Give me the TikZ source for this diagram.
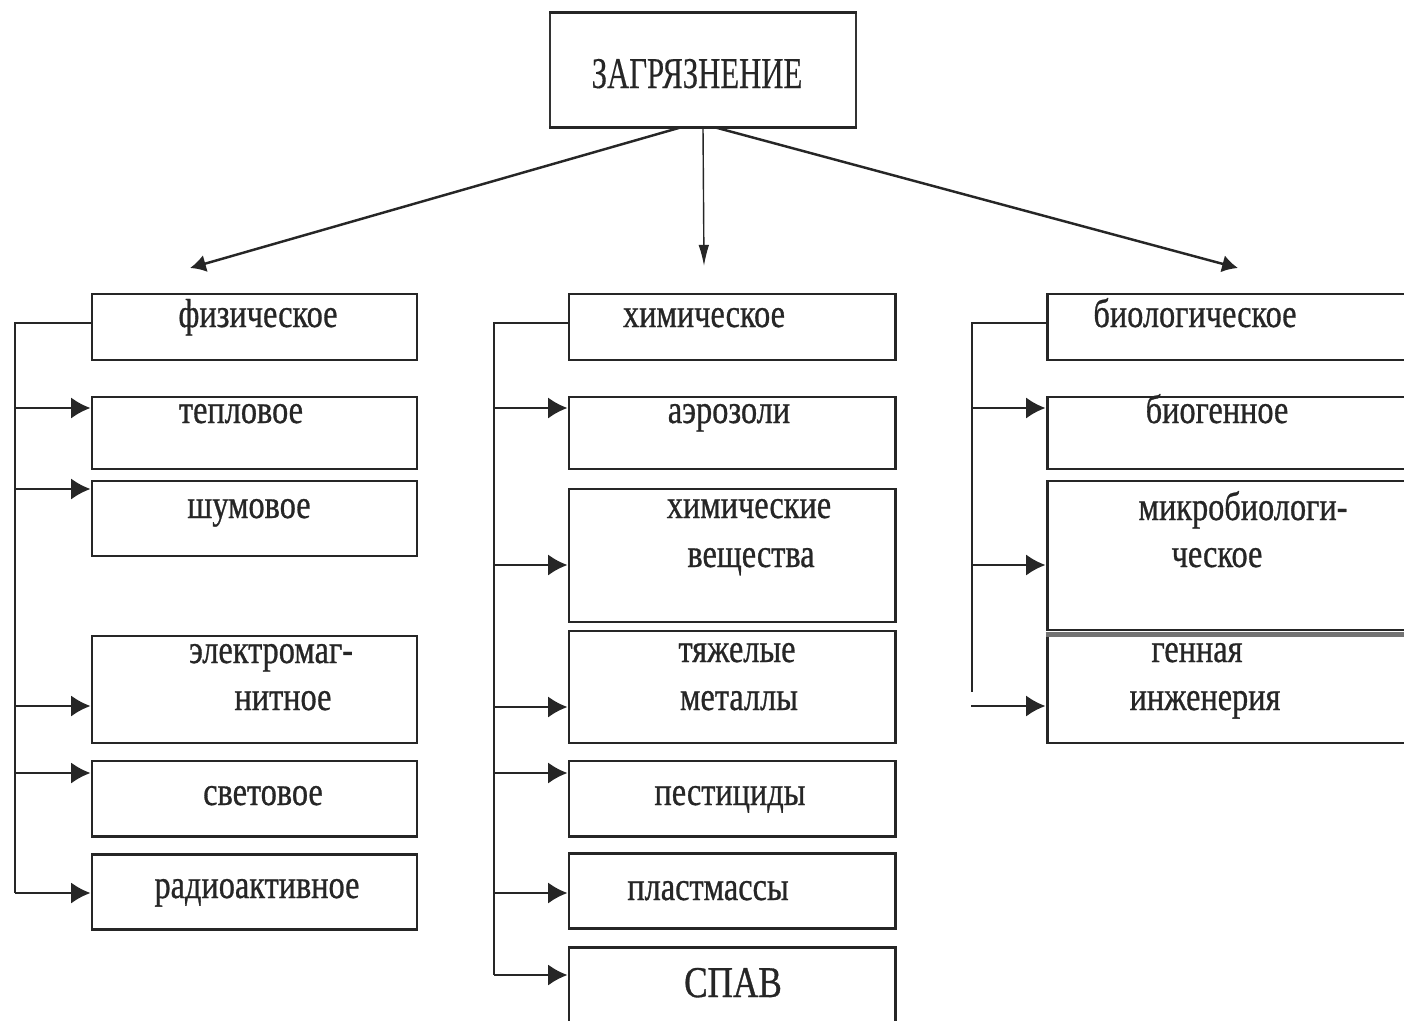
\documentclass[tikz,border=0pt]{standalone}
\usepackage{fontspec}
\setmainfont{Liberation Serif}
\newfontfamily\condfont[FakeStretch=0.8,FakeBold=0.7]{Liberation Serif}
\newfontfamily\titlefont[FakeStretch=0.7,FakeBold=0.3]{Liberation Serif}
\usetikzlibrary{arrows.meta,fit}
\begin{document}
\begin{tikzpicture}[x=0.02cm,y=-0.02cm,
 box/.style={draw=black!85, line width=1.7pt, inner sep=0pt},
 lbl/.style={anchor=base, inner sep=0pt, font=\condfont\fontsize{23}{27}\selectfont, text=black!85},
 trunk/.style={draw=black!85, line width=1.3pt},
 harr/.style={draw=black!85, line width=1.3pt, -{Latex[length=11pt,width=12pt]}},
 tarr/.style={draw=black!85, line width=1.4pt, -{Latex[length=9pt,width=10pt]}},
 marr/.style={draw=black!85, line width=0.8pt, -{Latex[length=12pt,width=6pt]}},
]
\useasboundingbox (0,0) rectangle (1404,1021);
\clip (0,0) rectangle (1404,1021);

% top box
\node[draw=black!80, line width=0.7pt, inner sep=0pt, fit={(550,13) (856,127)}] (top) {};
\draw[black!85, line width=1.8pt] (top.north west) -- (top.north east);
\draw[black!85, line width=1.8pt] (top.south west) -- (top.south east);
\node[anchor=base, inner sep=0pt, font=\titlefont\fontsize{25}{29}\selectfont, text=black!85] (toptext) at (697,88) {ЗАГРЯЗНЕНИЕ};

\coordinate (tl) at (190,268);
\coordinate (tm) at (704,266);
\coordinate (tr) at (1238,268);
\draw[tarr] ([xshift=-0.46cm]top.south) -- (tl);
\draw[marr] (top.south) -- (tm);
\draw[tarr] ([xshift=0.26cm]top.south) -- (tr);

% left column
\node[box, fit={(92,294) (417,360)}] (fiz) {};
\node[box, fit={(92,397) (417,469)}] (tep) {};
\node[box, fit={(92,481) (417,556)}] (shum) {};
\node[box, fit={(92,636) (417,743)}] (elm) {};
\node[box, fit={(92,761) (417,836)}] (svet) {};
\node[box, fit={(92,854) (417,929)}] (rad) {};

\node[lbl] (t1) at (258,327) {физическое};
\node[lbl] (t2) at (241,423) {тепловое};
\node[lbl] (t3) at (249,518) {шумовое};
\node[lbl] (t4a) at (271,663) {электромаг-};
\node[lbl] (t4b) at (283,710) {нитное};
\node[lbl] (t5) at (263,805) {световое};
\node[lbl] (t6) at (257,898) {радиоактивное};

\coordinate (Lt) at (15,323);
\coordinate (Lb) at (15,893);
\coordinate (La1) at (15,408);
\coordinate (La2) at (15,489);
\coordinate (La3) at (15,706);
\coordinate (La4) at (15,773);
\draw[trunk] (Lt -| fiz.west) -- (Lt) -- (Lb);
\draw[harr] (La1) -- (La1 -| tep.west);
\draw[harr] (La2) -- (La2 -| shum.west);
\draw[harr] (La3) -- (La3 -| elm.west);
\draw[harr] (La4) -- (La4 -| svet.west);
\draw[harr] (Lb) -- (Lb -| rad.west);

% middle column
\node[box, fit={(569,294) (895,360)}] (him) {};
\node[box, fit={(569,397) (895,469)}] (aer) {};
\node[box, fit={(569,489) (895,622)}] (hv) {};
\node[box, fit={(569,631) (895,743)}] (tmet) {};
\node[box, fit={(569,761) (895,836)}] (pest) {};
\node[box, fit={(569,853) (895,928)}] (plast) {};
\node[box, fit={(569,947) (895,1040)}] (spav) {};

\node[lbl] (m1) at (704,327) {химическое};
\node[lbl] (m2) at (729,423) {аэрозоли};
\node[lbl] (m3a) at (749,518) {химические};
\node[lbl] (m3b) at (751,567) {вещества};
\node[lbl] (m4a) at (737,662) {тяжелые};
\node[lbl] (m4b) at (739,710) {металлы};
\node[lbl] (m5) at (730,805) {пестициды};
\node[lbl] (m6) at (708,900) {пластмассы};
\node[lbl, font=\condfont\fontsize{25}{29}\selectfont] (m7) at (733,997) {СПАВ};

\coordinate (Mt) at (494,323);
\coordinate (Mb) at (494,975);
\coordinate (Ma1) at (494,408);
\coordinate (Ma2) at (494,565);
\coordinate (Ma3) at (494,707);
\coordinate (Ma4) at (494,773);
\coordinate (Ma5) at (494,893);
\draw[trunk] (Mt -| him.west) -- (Mt) -- (Mb);
\draw[harr] (Ma1) -- (Ma1 -| aer.west);
\draw[harr] (Ma2) -- (Ma2 -| hv.west);
\draw[harr] (Ma3) -- (Ma3 -| tmet.west);
\draw[harr] (Ma4) -- (Ma4 -| pest.west);
\draw[harr] (Ma5) -- (Ma5 -| plast.west);
\draw[harr] (Mb) -- (Mb -| spav.west);

% right column
\node[box, fit={(1047,294) (1430,360)}] (bio) {};
\node[box, fit={(1047,397) (1430,469)}] (biog) {};
\node[box, fit={(1047,481) (1430,630)}] (mikro) {};
\node[box, fit={(1047,636) (1430,743)}] (gen) {};
\draw[black!55, line width=2.6pt] (mikro.south west) ++(0,3) -- ++(400,0);

\node[lbl] (r1) at (1195,327) {биологическое};
\node[lbl] (r2) at (1217,423) {биогенное};
\node[lbl] (r3a) at (1243,520) {микробиологи-};
\node[lbl] (r3b) at (1217,567) {ческое};
\node[lbl] (r4a) at (1197,662) {генная};
\node[lbl] (r4b) at (1205,710) {инженерия};

\coordinate (Rt) at (972,323);
\coordinate (Rb) at (972,692);
\coordinate (Ra1) at (972,408);
\coordinate (Ra2) at (972,565);
\coordinate (Ra3) at (971,706);
\draw[trunk] (Rt -| bio.west) -- (Rt) -- (Rb);
\draw[harr] (Ra1) -- (Ra1 -| biog.west);
\draw[harr] (Ra2) -- (Ra2 -| mikro.west);
\draw[harr] (Ra3) -- (Ra3 -| gen.west);
\end{tikzpicture}
\end{document}
